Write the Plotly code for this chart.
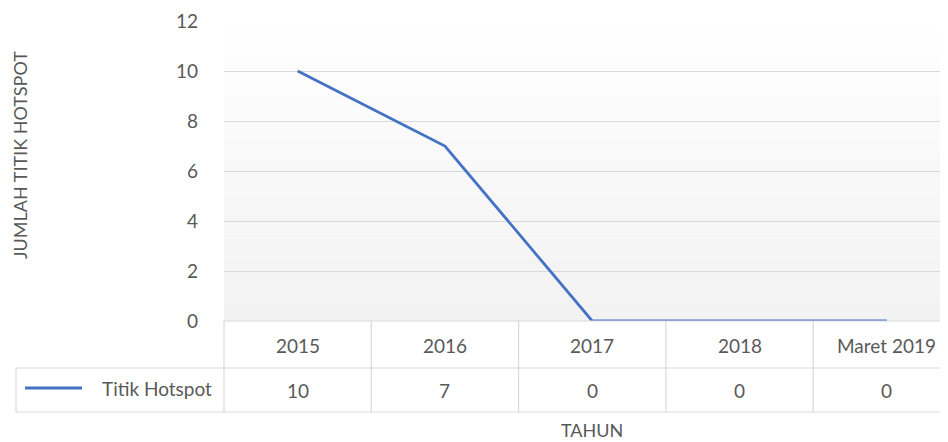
import plotly.graph_objects as go

categories = ["2015", "2016", "2017", "2018", "Maret 2019"]
values = [10, 7, 0, 0, 0]
series_name = "Titik Hotspot"
y_ticks = [0, 2, 4, 6, 8, 10, 12]

OFF = 8  # page body margin
W, H = 948 - OFF, 442 - OFF
L = 224 - OFF
T = 21 - OFF
PH = 300
B = H - T - PH
R = 0
PW = W - L - R
COL = 147.3  # pixel width per category


def px_x(p):  # page pixel -> paper x
    return (p - OFF - L) / PW


def px_y(p):  # page pixel -> paper y
    return (T + PH - (p - OFF)) / PH


grid = "#d9d9d9"
txt = "#595959"
font = "Lato, 'Open Sans', sans-serif"
FS = 19

fig = go.Figure()
fig.add_trace(go.Scatter(
    x=list(range(len(categories))), y=values, mode="lines",
    line=dict(color="#4472C4", width=2.8), name=series_name,
    showlegend=False, hoverinfo="skip", cliponaxis=False))

shapes = []
# gradient background
n = 40
for i in range(n):
    f = i / n
    c = int(round(242 + (255 - 242) * f))
    shapes.append(dict(type="rect", xref="x domain", yref="y domain",
                       x0=0, x1=1, y0=i / n, y1=(i + 1) / n,
                       fillcolor=f"rgb({c},{c},{c})", line=dict(width=0),
                       layer="below"))

right = 1.0
row1 = px_y(368)
row2 = px_y(412)
lc = dict(color=grid, width=1.2)
shapes += [
    dict(type="line", xref="paper", yref="paper", x0=0, x1=right, y0=0, y1=0, line=lc),
    dict(type="line", xref="paper", yref="paper", x0=px_x(16), x1=right, y0=row1, y1=row1, line=lc),
    dict(type="line", xref="paper", yref="paper", x0=px_x(16), x1=right, y0=row2, y1=row2, line=lc),
    dict(type="line", xref="paper", yref="paper", x0=px_x(16), x1=px_x(16), y0=row1, y1=row2, line=lc),
    dict(type="line", xref="paper", yref="paper", x0=0, x1=0, y0=0, y1=row2, line=lc),
]
for i in range(1, len(categories)):
    xp = px_x(224 + COL * i)
    shapes.append(dict(type="line", xref="paper", yref="paper", x0=xp, x1=xp,
                       y0=0, y1=row2, line=lc))
# legend key line
shapes.append(dict(type="line", xref="paper", yref="paper", x0=px_x(25), x1=px_x(82),
                   y0=px_y(388), y1=px_y(388), line=dict(color="#4472C4", width=2.8)))

fnt = dict(size=FS, color=txt, family=font)
annotations = []
for i, (c, v) in enumerate(zip(categories, values)):
    annotations.append(dict(x=i, y=px_y(345), xref="x", yref="paper", text=c,
                            xanchor="center", yanchor="middle",
                            showarrow=False, font=fnt))
    annotations.append(dict(x=i, y=px_y(390), xref="x", yref="paper", text=str(v),
                            xanchor="center", yanchor="middle",
                            showarrow=False, font=fnt))
annotations.append(dict(x=px_x(214), y=px_y(388), xref="paper", yref="paper",
                        text=series_name, xanchor="right", yanchor="middle",
                        showarrow=False, font=fnt))
annotations.append(dict(x=px_x(20), y=px_y(155), xref="paper", yref="paper",
                        text="JUMLAH TITIK HOTSPOT", textangle=-90, showarrow=False,
                        xanchor="center", yanchor="middle",
                        font=dict(size=18, color=txt, family=font)))
annotations.append(dict(x=px_x(592), y=px_y(430), xref="paper", yref="paper",
                        text="TAHUN", showarrow=False, xanchor="center", yanchor="middle",
                        font=dict(size=18, color=txt, family=font)))

fig.update_layout(
    width=W, height=H, margin=dict(l=L, r=R, t=T, b=B),
    paper_bgcolor="white", plot_bgcolor="white",
    shapes=shapes, annotations=annotations,
    xaxis=dict(range=[-0.5, -0.5 + PW / COL], showticklabels=False, showgrid=False,
               zeroline=False, showline=False, ticks=""),
    yaxis=dict(range=[0, 12], tickvals=y_ticks, gridcolor=grid, gridwidth=1,
               zeroline=False, showline=False, ticks="", ticklabelstandoff=25,
               tickfont=fnt),
)

fig.write_html("out.html")
